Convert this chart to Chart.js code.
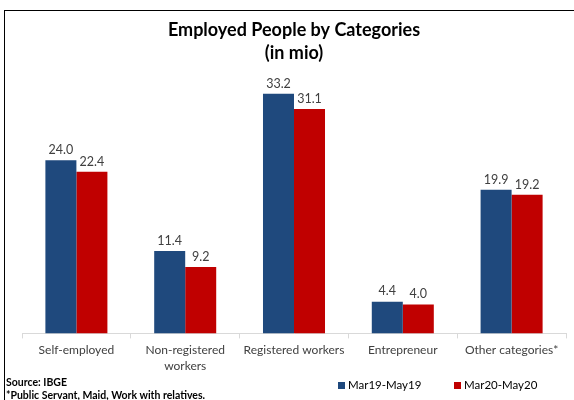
<!DOCTYPE html>
<html>
<head>
<meta charset="utf-8">
<script src="https://cdn.jsdelivr.net/npm/chart.js@4"></script>
<style>
  html, body { margin: 0; padding: 0; background: #fff; }
  #wrap { position: relative; width: 574px; height: 400px; overflow: hidden; }
  #frame { position: absolute; left: 4px; top: 10px; width: 600px; height: 400px;
           border-left: 1.5px solid #000; border-top: 1.5px solid #000; box-sizing: border-box; }
  #notes { position: absolute; left: 6px; top: 376px; font-family: Lato, "Open Sans", sans-serif;
           font-weight: bold; font-size: 10.5px; color: #000; line-height: 13px; }
  #legend { position: absolute; top: 377px; left: 0; font-family: Lato, "Open Sans", sans-serif;
            font-size: 11.5px; color: #000; line-height: 16px; }
  .item { position: absolute; white-space: nowrap; }
  .box { position: absolute; top: 5px; width: 7px; height: 7px; }
  .item span { position: absolute; left: 10px; top: 0; }
  canvas { position: absolute; left: 0; top: 0; }
</style>
</head>
<body>
<div id="wrap">
  <canvas id="chart" width="574" height="400"></canvas>
  <div id="frame"></div>
  <div id="notes">
    <div>Source: IBGE</div>
    <div>*Public Servant, Maid, Work with relatives.</div>
  </div>
  <div id="legend"></div>
</div>
<script>
// Employed people by category, in millions
const categories = ['Self-employed', ['Non-registered', 'workers'], 'Registered workers', 'Entrepreneur', 'Other categories*'];
const seriesNames = ['Mar19-May19', 'Mar20-May20'];
const values2019 = [24.0, 11.4, 33.2, 4.4, 19.9];
const values2020 = [22.4, 9.2, 31.1, 4.0, 19.2];
const seriesColors = ['#1F497D', '#C00000'];

const FONT = 'Lato, "Open Sans", sans-serif';

// draws the value above each bar
const valueLabels = {
    id: 'valueLabels',
    afterDatasetsDraw: function (chart) {
        const ctx = chart.ctx;
        ctx.save();
        ctx.font = '12.5px ' + FONT;
        ctx.fillStyle = '#404040';
        ctx.textAlign = 'center';
        ctx.textBaseline = 'bottom';
        chart.data.datasets.forEach((ds, i) => {
            chart.getDatasetMeta(i).data.forEach((bar, j) => {
                ctx.fillText(ds.data[j].toFixed(1), bar.x, bar.y - 4);
            });
        });
        ctx.restore();
    }
};

// legend sits to the right of the source notes
const legendEl = document.getElementById('legend');
const legendX = [338, 454];
seriesNames.forEach((name, i) => {
    const item = document.createElement('div');
    item.className = 'item';
    item.style.left = legendX[i] + 'px';
    item.innerHTML = '<div class="box" style="background:' + seriesColors[i] + '"></div><span>' + name + '</span>';
    legendEl.appendChild(item);
});

new Chart(document.getElementById('chart'), {
    type: 'bar',
    data: {
        labels: categories,
        datasets: [
            { label: seriesNames[0], data: values2019, backgroundColor: seriesColors[0] },
            { label: seriesNames[1], data: values2020, backgroundColor: seriesColors[1] }
        ]
    },
    options: {
        responsive: false,
        animation: false,
        devicePixelRatio: 1,
        categoryPercentage: 0.57,
        barPercentage: 1.0,
        layout: { padding: { top: 18, left: 22, right: 8, bottom: 22 } },
        plugins: {
            title: {
                display: true,
                text: ['Employed People by Categories', '(in mio)'],
                color: '#000',
                font: { family: FONT, size: 18, weight: 'bold', lineHeight: 1.3 },
                padding: { top: 0, bottom: 16 }
            },
            legend: { display: false },
            tooltip: { enabled: false }
        },
        scales: {
            x: {
                grid: { display: true, drawOnChartArea: false, tickLength: 5, color: '#d9d9d9' },
                border: { color: '#d9d9d9' },
                ticks: {
                    color: '#404040',
                    maxRotation: 0,
                    autoSkip: false,
                    padding: 3,
                    font: { family: FONT, size: 12, lineHeight: 1.4 }
                }
            },
            y: {
                display: false,
                min: 0,
                max: 35
            }
        }
    },
    plugins: [valueLabels]
});
</script>
</body>
</html>
